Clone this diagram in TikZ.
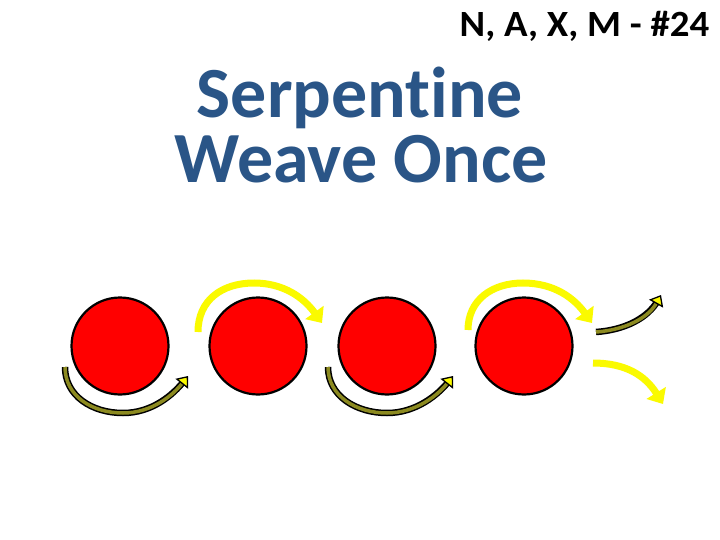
\documentclass[tikz,border=0pt]{standalone}
\usepackage{fontspec}
\setmainfont{Carlito}[Ligatures={NoCommon}]
\usetikzlibrary{arrows.meta}
\definecolor{titleblue}{HTML}{2A5587}
\definecolor{olivearr}{HTML}{8C8A20}
\definecolor{yel}{HTML}{FAFA00}
\tikzset{
  ball/.style={circle, draw=black, line width=2.2pt, fill=red, minimum size=97pt, inner sep=0pt},
  oliveout/.style={draw=black, line width=6.5pt, shorten >=6pt},
  oliveshaft/.style={draw=olivearr, line width=3.5pt, -{Triangle[length=10pt,width=16pt,color=black,fill=yel,line width=1.3pt]}},
  yelarrow/.style={draw=yel, line width=7pt, -{Triangle[length=13pt,width=22pt,color=yel,fill=yel]}},
}
\begin{document}
\begin{tikzpicture}[x=1pt,y=-1pt]
\useasboundingbox (0,0) rectangle (720,540);
\fill[white] (0,0) rectangle (720,540);

\node[anchor=base east, xscale=1.05, font=\bfseries\fontsize{37}{42}\selectfont] (tag) at (713,37) {N, A, X, M - \#24};
\node[anchor=base, font=\bfseries\fontsize{72}{80}\selectfont, text=titleblue] (t1) at (360,118) {Serpentine};
\node[anchor=base, font=\bfseries\fontsize{72}{80}\selectfont, text=titleblue] (t2) at (361,183) {Weave Once};

\node[ball] (b1) at (120,346) {};
\node[ball] (b2) at (258,346) {};
\node[ball] (b3) at (387,346) {};
\node[ball] (b4) at (524,346) {};

% lower olive arrows
\coordinate (l1s) at (65,367);
\coordinate (l1b) at (123,413);
\coordinate (l1e) at (188,376);
\draw[oliveout] (l1s) .. controls (65,396) and (92,413) .. (l1b) .. controls (152,413) and (173,395) .. (l1e);
\draw[oliveshaft] (l1s) .. controls (65,396) and (92,413) .. (l1b) .. controls (152,413) and (173,395) .. (l1e);

\coordinate (l2s) at (328,367);
\coordinate (l2b) at (387,413);
\coordinate (l2e) at (453,376);
\draw[oliveout] (l2s) .. controls (328,396) and (356,413) .. (l2b) .. controls (416,413) and (438,395) .. (l2e);
\draw[oliveshaft] (l2s) .. controls (328,396) and (356,413) .. (l2b) .. controls (416,413) and (438,395) .. (l2e);

% upper yellow arrows
\coordinate (u1s) at (198,332);
\coordinate (u1t) at (254,283);
\coordinate (u1e) at (322,323);
\draw[yelarrow] (u1s) .. controls (198,300) and (222,283) .. (u1t) .. controls (284,283) and (304,298) .. (u1e);

\coordinate (u2s) at (468,330);
\coordinate (u2t) at (523,283);
\coordinate (u2e) at (592,323);
\draw[yelarrow] (u2s) .. controls (468,300) and (492,283) .. (u2t) .. controls (554,283) and (574,298) .. (u2e);

% exit arrows
\coordinate (o3s) at (596,332);
\coordinate (o3e) at (661,295);
\draw[oliveout] (o3s) .. controls (625,330) and (648,318) .. (o3e);
\draw[oliveshaft] (o3s) .. controls (625,330) and (648,318) .. (o3e);

\coordinate (y3s) at (593,363);
\coordinate (y3e) at (663,404);
\draw[yelarrow] (y3s) .. controls (625,363) and (645,375) .. (y3e);
\end{tikzpicture}
\end{document}
